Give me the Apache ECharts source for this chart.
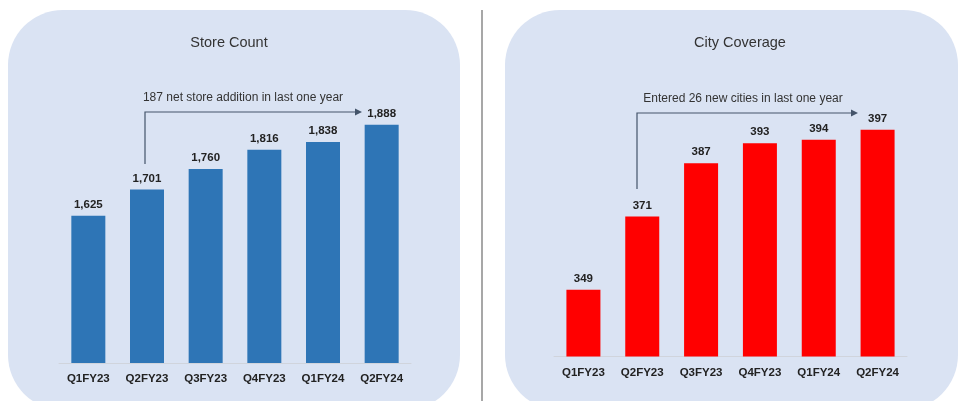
<!DOCTYPE html>
<html>
<head>
<meta charset="utf-8">
<title>Store Count / City Coverage</title>
<script src="https://cdn.jsdelivr.net/npm/echarts@6/dist/echarts.min.js"></script>
<style>
    html, body { margin: 0; padding: 0; background: #fff; }
    #main { width: 958px; height: 401px; }
</style>
</head>
<body>
<div id="main"></div>
<script>
    // data
    var quarters = ['Q1FY23', 'Q2FY23', 'Q3FY23', 'Q4FY23', 'Q1FY24', 'Q2FY24'];
    var storeCount = [1625, 1701, 1760, 1816, 1838, 1888];
    var cityCoverage = [349, 371, 387, 393, 394, 397];
    var titles = ['Store Count', 'City Coverage'];
    var notes = ['187 net store addition in last one year', 'Entered 26 new cities in last one year'];

    var font = '"Liberation Sans", Arial, sans-serif';
    var panelColor = '#dae3f3';
    var arrowColor = '#44546a';

    var chart = echarts.init(document.getElementById('main'), null, { renderer: 'canvas' });

    function xAxisFor(gridIndex) {
        return {
            type: 'category',
            gridIndex: gridIndex,
            data: quarters,
            axisTick: { show: false },
            axisLine: { lineStyle: { color: '#d0d4dc', width: 1 } },
            axisLabel: { margin: 10, color: '#222', fontFamily: font, fontWeight: 'bold', fontSize: 11.5 }
        };
    }
    function yAxisFor(gridIndex, min, max) {
        return {
            type: 'value', gridIndex: gridIndex, min: min, max: max,
            show: false, splitLine: { show: false }
        };
    }
    function barSeries(idx, data, color) {
        return {
            type: 'bar',
            xAxisIndex: idx,
            yAxisIndex: idx,
            data: data,
            barWidth: 34,
            itemStyle: { color: color },
            label: {
                show: true,
                position: 'top',
                distance: 5,
                color: '#222',
                fontFamily: font,
                fontWeight: 'bold',
                fontSize: 11.5,
                formatter: function (p) { return p.value.toLocaleString('en-US'); }
            }
        };
    }
    function arrow(pts, tipX) {
        var y = pts[pts.length - 1][1];
        return [
            { type: 'polyline', silent: true, shape: { points: pts },
              style: { stroke: arrowColor, lineWidth: 1.2, fill: null } },
            { type: 'polygon', silent: true,
              shape: { points: [[tipX - 7, y - 3.5], [tipX, y], [tipX - 7, y + 3.5]] },
              style: { fill: arrowColor } }
        ];
    }
    function titleAt(text, x, y, size) {
        return {
            text: text, left: x, top: y, textAlign: 'center', padding: 0,
            textStyle: { fontFamily: font, fontSize: size, fontWeight: 'normal', color: '#333' }
        };
    }

    var option = {
        animation: false,
        backgroundColor: '#fff',
        title: [
            titleAt(titles[0], 229, 35, 14.5),
            titleAt(titles[1], 740, 35, 14.5),
            titleAt(notes[0], 243, 92, 12),
            titleAt(notes[1], 743, 93, 12)
        ],
        graphic: [
            { type: 'rect', z: -10, silent: true,
              shape: { x: 8, y: 10, width: 452, height: 400, r: 55 },
              style: { fill: panelColor } },
            { type: 'rect', z: -10, silent: true,
              shape: { x: 505, y: 10, width: 453, height: 400, r: 55 },
              style: { fill: panelColor } },
            { type: 'line', z: -10, silent: true,
              shape: { x1: 482, y1: 10, x2: 482, y2: 401 },
              style: { stroke: '#8a8a8a', lineWidth: 1.5 } }
        ].concat(
            arrow([[145, 164], [145, 112], [356, 112]], 362),
            arrow([[637, 189], [637, 113], [851, 113]], 858)
        ),
        grid: [
            { left: 59, width: 352, top: 86, height: 277 },
            { left: 554, width: 353, top: 86.5, height: 270 }
        ],
        xAxis: [xAxisFor(0), xAxisFor(1)],
        yAxis: [yAxisFor(0, 1200, 2000), yAxisFor(1, 329, 410)],
        series: [
            barSeries(0, storeCount, '#2e75b6'),
            barSeries(1, cityCoverage, '#ff0000')
        ]
    };

    chart.setOption(option);
</script>
</body>
</html>
